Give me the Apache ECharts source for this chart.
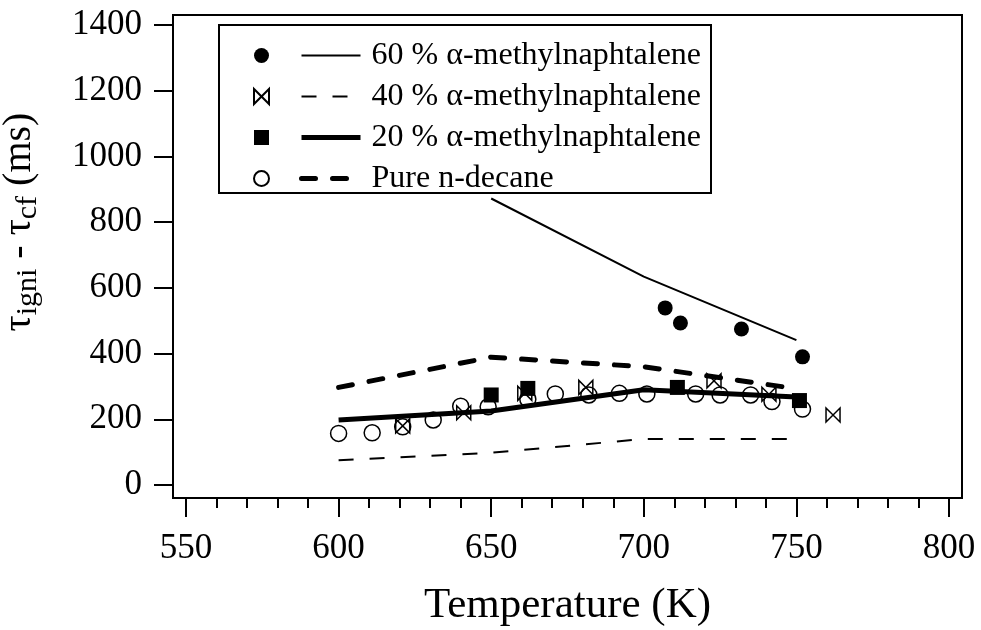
<!DOCTYPE html>
<html>
<head>
<meta charset="utf-8">
<script src="https://cdn.jsdelivr.net/npm/echarts@6/dist/echarts.min.js"></script>
<style>
	html, body { margin: 0; padding: 0; background: #fff; }
	#main { width: 981px; height: 630px; }
</style>
</head>
<body>
<div id="main"></div>
<script>
// measured points (K, ms)
var pts60T = [707, 712, 732, 752];
var pts60V = [539, 493, 475, 390];
var pts40T = [621, 641, 661, 681, 723, 741, 762];
var pts40V = [180, 220, 279, 297, 317, 276, 213];
var pts20T = [650, 662, 711, 751];
var pts20V = [274, 294, 297, 257];
var ptsPureT = [600, 611, 621, 631, 640, 649, 662, 671, 682, 692, 701, 717, 725, 735, 742, 752];
var ptsPureV = [157, 159, 177, 198, 240, 238, 261, 277, 274, 279, 277, 277, 274, 274, 254, 231];

// model curves
var line60T = [650, 700, 750];
var line60V = [872, 634, 441];
var modelT = [600, 650, 700, 750];
var line40V = [75, 98, 140, 140];
var line20V = [198, 225, 290, 268];
var linePureV = [297, 389, 360, 293];

var names = ['60 % α-methylnaphtalene', '40 % α-methylnaphtalene', '20 % α-methylnaphtalene', 'Pure n-decane'];
var ptNames = ['pts60', 'pts40', 'pts20', 'ptsPure'];
var xTicks = [550, 600, 650, 700, 750, 800];
var yTicks = [0, 200, 400, 600, 800, 1000, 1200, 1400];

function pairs(xs, ys) {
	var out = [];
	for (var i = 0; i < xs.length; i++) {
		out.push([xs[i], ys[i]]);
	}
	return out;
}

var font = 'Liberation Serif';
var bowtie = 'path://M0,0 L0,10 L10,0 L10,10 Z';

var lineStyles = [
	{ color: '#000', width: 2, type: 'solid' },
	{ color: '#000', width: 2, type: [15, 16] },
	{ color: '#000', width: 5, type: 'solid' },
	{ color: '#000', width: 5, type: [14, 17], cap: 'round' }
];

var myChart = echarts.init(document.getElementById('main'), null, { renderer: 'canvas' });
var option = {
	backgroundColor: '#fff',
	animation: false,
	grid: { left: 186, right: 32, top: 25, bottom: 145, containLabel: false, outerBoundsMode: 'none' },
	xAxis: {
		type: 'value',
		min: xTicks[0],
		max: xTicks[xTicks.length - 1],
		interval: 50,
		offset: 13,
		name: 'Temperature (K)',
		nameLocation: 'middle',
		nameGap: 86,
		nameTextStyle: { fontFamily: font, fontSize: 43, color: '#000' },
		axisLine: { show: false, onZero: false },
		axisTick: { show: true, inside: false, length: 19, lineStyle: { color: '#000', width: 2 } },
		minorTick: { show: true, splitNumber: 5, length: 10, lineStyle: { color: '#000', width: 2 } },
		axisLabel: { fontFamily: font, fontSize: 35, color: '#000', margin: 33 },
		splitLine: { show: false }
	},
	yAxis: {
		type: 'value',
		min: yTicks[0],
		max: yTicks[yTicks.length - 1],
		interval: 200,
		offset: 13,
		name: '{t|τ}{s|igni}{t| - τ}{s|cf}{t| (ms)}',
		nameLocation: 'middle',
		nameRotate: 90,
		nameGap: 130,
		nameTextStyle: {
			padding: [0, 0, 0, 66],
			rich: {
				t: { fontFamily: font, fontSize: 40, color: '#000' },
				s: { fontFamily: font, fontSize: 30, color: '#000', padding: [18, 0, 0, 0] }
			}
		},
		axisLine: { show: false, onZero: false },
		axisTick: { show: true, inside: false, length: 19, lineStyle: { color: '#000', width: 2 } },
		axisLabel: {
			fontFamily: font, fontSize: 35, color: '#000', margin: 31,
			formatter: function (v) { return String(v); }
		},
		splitLine: { show: false }
	},
	legend: [{
		// marker column
		data: ptNames,
		orient: 'vertical',
		left: 248,
		top: 30,
		itemGap: 0,
		itemWidth: 15,
		itemHeight: 15,
		formatter: function () { return ' '; },
		itemStyle: { opacity: 1 },
		textStyle: { fontFamily: font, fontSize: 32, lineHeight: 41 },
		selectedMode: false
	}, {
		// line samples + text
		data: names.map(function (n, i) {
			return { name: n, lineStyle: lineStyles[i] };
		}),
		orient: 'vertical',
		left: 294,
		top: 30,
		itemGap: 0,
		itemWidth: 59,
		itemHeight: 1,
		itemStyle: { color: 'rgba(0,0,0,0)', borderColor: 'rgba(0,0,0,0)', borderWidth: 0 },
		textStyle: { fontFamily: font, fontSize: 32, lineHeight: 41, color: '#000', padding: [0, 0, 0, 6] },
		selectedMode: false
	}],
	graphic: [{
		type: 'rect',
		z: 3,
		shape: { x: 219, y: 25, width: 492, height: 168 },
		style: { fill: '#fff', stroke: '#000', lineWidth: 2 }
	}, {
		type: 'rect',
		z: 10,
		shape: { x: 173, y: 15, width: 789, height: 483 },
		style: { fill: 'none', stroke: '#000', lineWidth: 2 }
	}],
	series: [
		{
			name: names[0], type: 'line', data: pairs(line60T, line60V),
			symbol: 'none', showSymbol: false, lineStyle: lineStyles[0], itemStyle: { color: '#000' }
		},
		{
			name: names[1], type: 'line', data: pairs(modelT, line40V),
			symbol: 'none', showSymbol: false, lineStyle: lineStyles[1], itemStyle: { color: '#000' }
		},
		{
			name: names[2], type: 'line', data: pairs(modelT, line20V),
			symbol: 'none', showSymbol: false, lineStyle: lineStyles[2], itemStyle: { color: '#000' }
		},
		{
			name: names[3], type: 'line', data: pairs(modelT, linePureV),
			symbol: 'none', showSymbol: false, lineStyle: lineStyles[3], itemStyle: { color: '#000' }
		},
		{
			name: ptNames[0], type: 'scatter', data: pairs(pts60T, pts60V),
			symbol: 'circle', symbolSize: 15, itemStyle: { color: '#000', opacity: 1 }
		},
		{
			name: ptNames[1], type: 'scatter', data: pairs(pts40T, pts40V),
			symbol: bowtie, symbolSize: [14, 14],
			itemStyle: { color: 'rgba(0,0,0,0)', borderColor: '#000', borderWidth: 1.5, opacity: 1 }
		},
		{
			name: ptNames[2], type: 'scatter', data: pairs(pts20T, pts20V),
			symbol: 'rect', symbolSize: 15, itemStyle: { color: '#000', opacity: 1 }
		},
		{
			name: ptNames[3], type: 'scatter', data: pairs(ptsPureT, ptsPureV),
			symbol: 'circle', symbolSize: 16,
			itemStyle: { color: 'rgba(0,0,0,0)', borderColor: '#000', borderWidth: 1.5, opacity: 1 }
		}
	]
};
myChart.setOption(option);
</script>
</body>
</html>
